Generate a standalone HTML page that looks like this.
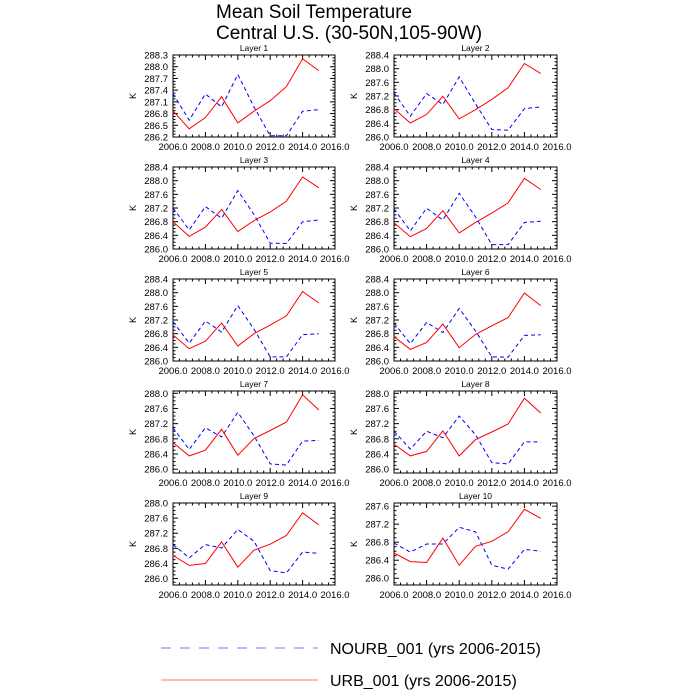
<!DOCTYPE html>
<html><head><meta charset="utf-8"><style>
html,body{margin:0;padding:0;background:#fff;}
svg{display:block;font-family:"Liberation Sans",sans-serif;}
</style></head><body>
<svg id="chart" width="700" height="700" viewBox="0 0 700 700">
<text x="216" y="18" font-size="19">Mean Soil Temperature</text>
<text x="216" y="39" font-size="19">Central U.S. (30-50N,105-90W)</text>
<g>
<line x1="161" y1="648" x2="318" y2="648" stroke="#7777ee" stroke-width="1" stroke-dasharray="10,9"/>
<text x="330" y="654" font-size="16">NOURB_001 (yrs 2006-2015)</text>
<line x1="161" y1="680" x2="318" y2="680" stroke="#ff7777" stroke-width="1"/>
<text x="330" y="686" font-size="16">URB_001 (yrs 2006-2015)</text>
</g>
</svg>
<script>
const years = [2006,2007,2008,2009,2010,2011,2012,2013,2014,2015];
const layerNames = ["Layer 1","Layer 2","Layer 3","Layer 4","Layer 5","Layer 6","Layer 7","Layer 8","Layer 9","Layer 10"];
const urb1 = [286.87,286.41,286.70,287.23,286.56,286.86,287.13,287.49,288.20,287.90];
const nourb1 = [287.31,286.63,287.30,286.97,287.80,286.97,286.23,286.23,286.86,286.90];
const urb2 = [286.83,286.41,286.66,287.19,286.53,286.80,287.10,287.44,288.15,287.86];
const nourb2 = [287.29,286.61,287.27,286.95,287.76,286.97,286.22,286.20,286.83,286.88];
const urb3 = [286.80,286.37,286.64,287.16,286.51,286.83,287.08,287.40,288.11,287.79];
const nourb3 = [287.20,286.56,287.24,286.90,287.71,287.01,286.17,286.16,286.80,286.85];
const urb4 = [286.77,286.36,286.60,287.12,286.47,286.78,287.05,287.35,288.07,287.74];
const nourb4 = [287.18,286.53,287.19,286.85,287.63,286.94,286.13,286.13,286.78,286.81];
const urb5 = [286.76,286.36,286.58,287.11,286.44,286.80,287.05,287.32,288.03,287.70];
const nourb5 = [287.15,286.52,287.17,286.85,287.62,286.93,286.12,286.12,286.77,286.80];
const urb6 = [286.71,286.34,286.54,287.08,286.39,286.78,287.03,287.27,287.99,287.62];
const nourb6 = [287.11,286.51,287.13,286.83,287.54,286.88,286.12,286.11,286.75,286.77];
const urb7 = [286.70,286.35,286.50,287.05,286.37,286.81,287.02,287.24,287.96,287.56];
const nourb7 = [287.09,286.52,287.09,286.85,287.50,286.88,286.14,286.11,286.74,286.76];
const urb8 = [286.66,286.35,286.47,287.01,286.35,286.78,286.98,287.19,287.87,287.48];
const nourb8 = [287.00,286.53,287.00,286.83,287.40,286.91,286.17,286.14,286.72,286.72];
const urb9 = [286.61,286.35,286.40,286.97,286.30,286.75,286.91,287.14,287.74,287.42];
const nourb9 = [286.90,286.55,286.90,286.81,287.30,286.99,286.21,286.15,286.70,286.67];
const urb10 = [286.56,286.37,286.35,286.89,286.29,286.71,286.82,287.03,287.53,287.33];
const nourb10 = [286.78,286.58,286.76,286.76,287.13,287.03,286.29,286.20,286.64,286.60];
const urbAll = [urb1,urb2,urb3,urb4,urb5,urb6,urb7,urb8,urb9,urb10];
const nourbAll = [nourb1,nourb2,nourb3,nourb4,nourb5,nourb6,nourb7,nourb8,nourb9,nourb10];
const yMins = [286.2,286.0,286.0,286.0,286.0,286.0,285.9,285.9,285.83,285.85];
const yMaxs = [288.3,288.4,288.4,288.4,288.4,288.4,288.06,288.06,288.0,287.67];
const yStarts = [286.2,286.0,286.0,286.0,286.0,286.0,286.0,286.0,286.0,286.0];
const ySteps = [0.3,0.4,0.4,0.4,0.4,0.4,0.4,0.4,0.4,0.4];
const xTicks = [2006,2008,2010,2012,2014,2016];

const NS="http://www.w3.org/2000/svg";
const svg=document.getElementById('chart');
function mk(tag,attrs,parent){const e=document.createElementNS(NS,tag);for(const k in attrs)e.setAttribute(k,attrs[k]);(parent||svg).appendChild(e);return e;}

for(let i=0;i<10;i++){
  const col=i%2,row=Math.floor(i/2);
  const L=col?394:173,R=col?557:335,T=55+row*112,B=T+82;
  const g=mk('g',{});
  
  
  const xs=v=>L+(v-2006)/(2016-2006)*(R-L);
  const ys=v=>B-(v-yMins[i])/(yMaxs[i]-yMins[i])*(B-T);
  const fr=mk('rect',{x:L,y:T,width:R-L,height:B-T,fill:'none',stroke:'#000','stroke-width':1},g);
  
  
  const tt=mk('text',{x:(L+R)/2,y:T-4,'font-size':8.5,'text-anchor':'middle'},g);
  tt.textContent=layerNames[i];
  
  
  // x ticks
  for(let yv=2006;yv<=2016.001;yv+=0.4){
    const x=xs(yv);const maj=Math.abs((yv-2006)/2-Math.round((yv-2006)/2))<0.01;
    const len=maj?5:2.5;
    mk('line',{x1:x,y1:B,x2:x,y2:B-len,stroke:'#000','stroke-width':1},g);
    mk('line',{x1:x,y1:T,x2:x,y2:T+len,stroke:'#000','stroke-width':1},g);
  }
  xTicks.forEach(v=>{
    const t=mk('text',{x:xs(v),y:B+13,'font-size':9.5,'text-anchor':'middle'},g);
    t.textContent=v.toFixed(1);
    
    
  });
  // y ticks
  const minor=ySteps[i]/4;
  for(let v=yStarts[i]-4*minor;v<=yMaxs[i]+1e-6;v+=minor){
    if(v<yMins[i]-1e-6)continue;
    const y=ys(v);const k=Math.round((v-yStarts[i])/minor);const maj=k%4===0;
    const len=maj?5:2.5;
    mk('line',{x1:L,y1:y,x2:L+len,y2:y,stroke:'#000','stroke-width':1},g);
    mk('line',{x1:R,y1:y,x2:R-len,y2:y,stroke:'#000','stroke-width':1},g);
    if(maj){
      const t=mk('text',{x:L-5,y:y+3.5,'font-size':9.5,'text-anchor':'end'},g);
      t.textContent=v.toFixed(1);
      
      
    }
  }
  const k=mk('text',{x:0,y:0,'font-size':9,'text-anchor':'middle',transform:`translate(${L-37},${(T+B)/2}) rotate(-90)`},g);
  k.textContent='K';
  
  
  const pn=nourbAll[i].map((v,j)=>xs(years[j]).toFixed(1)+','+ys(v).toFixed(1)).join(' ');
  const l1=mk('polyline',{points:pn,fill:'none',stroke:'#0000ff','stroke-width':1,'stroke-dasharray':'4,3'},g);
  
  
  const pu=urbAll[i].map((v,j)=>xs(years[j]).toFixed(1)+','+ys(v).toFixed(1)).join(' ');
  const l2=mk('polyline',{points:pu,fill:'none',stroke:'#ff0000','stroke-width':1},g);
  
  
}
</script>
</body></html>
